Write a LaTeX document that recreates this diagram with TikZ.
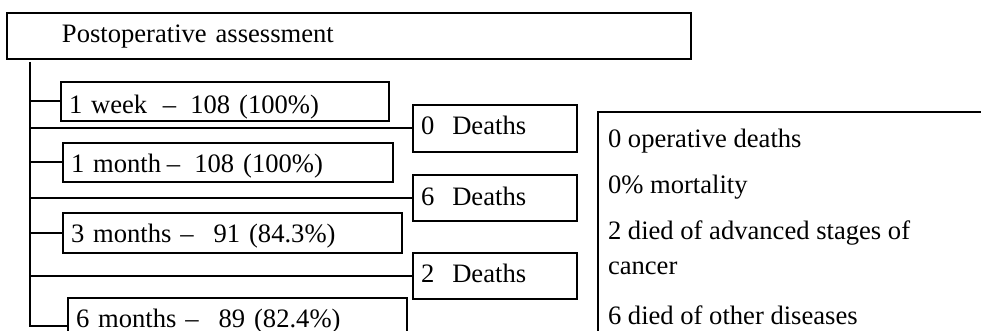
\documentclass[tikz,border=0pt]{standalone}
\usepackage{fontspec}
\setmainfont{Liberation Serif}
\usetikzlibrary{positioning}

\begin{document}
\begin{tikzpicture}[x=0.5pt, y=-0.5pt, line width=1pt,
    box/.style={draw, inner xsep=4pt, inner ysep=0pt, align=left,
                text depth=0pt, font=\fontsize{13.3}{16}\selectfont},
    note/.style={anchor=base west, inner sep=0pt,
                font=\fontsize{13.3}{16}\selectfont}]
        \useasboundingbox (0,0) rectangle (981,331);
        \clip (0,0) rectangle (981,331);

        % Heading box
        \node[box, text width=334pt, text height=7pt, minimum height=23pt] (assess) at (349,36)
            {\hspace*{23.5pt}Postoperative assessment};

        % Follow-up boxes on the left
        \node[box, text width=156pt, text height=12pt, minimum height=19.5pt] (week1) at (225,101.5)
            {\makebox[47pt][l]{1 week}--\hspace{7pt}108\hspace{4.5pt}(100\%)};
        \node[box, text width=157pt, text height=10.5pt, minimum height=19.5pt] (month1) at (228,162.5)
            {\makebox[48pt][l]{1 month}--\hspace{7pt}108\hspace{4.5pt}(100\%)};
        \node[box, text width=161.5pt, text height=10pt, minimum height=20pt] (month3) at (232.5,233)
            {3 months --\hspace{10pt}91 (84.3\%)};
        \node[box, text width=161.5pt, text height=10pt, minimum height=20pt] (month6) at (237.5,318)
            {6 months --\hspace{10pt}89 (82.4\%)};

        % Death boxes in the middle
        \node[box, text width=74pt, text height=6.5pt, minimum height=23.5pt] (dead0) at (495,128.5)
            {0\hspace{9pt}Deaths};
        \node[box, text width=74pt, text height=8pt, minimum height=23pt] (dead6) at (495,198)
            {6\hspace{9pt}Deaths};
        \node[box, text width=74pt, text height=7pt, minimum height=23pt] (dead2) at (495,276)
            {2\hspace{9pt}Deaths};

        % Trunk and branches
        \coordinate (trunktop) at (30,62);
        \draw (trunktop) |- ([yshift=-4pt]month6.west);
        \draw (week1.west) -- (week1.west -| trunktop);
        \draw (month1.west) -- (month1.west -| trunktop);
        \draw (month3.west) -- (month3.west -| trunktop);
        \draw (dead0.west) -- (dead0.west -| trunktop);
        \draw (dead6.west) -- (dead6.west -| trunktop);
        \draw (dead2.west) -- (dead2.west -| trunktop);

        % Notes box on the right
        \node[draw, anchor=north west, minimum width=250pt, minimum height=150pt]
            (notesbox) at (597,111) {};
        \node[note] (note1) at (607,148) {0 operative deaths};
        \node[note] (note2) at (607,194) {0\% mortality};
        \node[note] (note3) at (607,240) {2 died of advanced stages of};
        \node[note] (note4) at (607,275) {cancer};
        \node[note] (note5) at (607,325) {6 died of other diseases};
    \end{tikzpicture}
\end{document}
